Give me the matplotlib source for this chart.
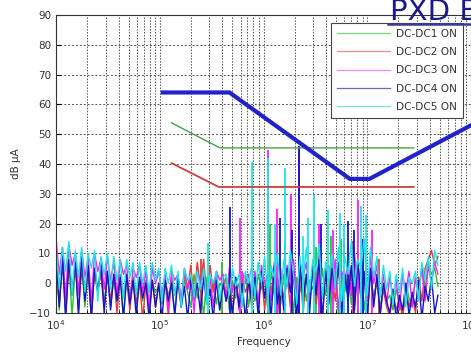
import numpy as np
import matplotlib
matplotlib.use("Agg")
from matplotlib import pyplot as plt

# measurement sweep: log-spaced scan from 10 kHz to ~48 MHz
freq_start, freq_stop = 1e4, 4.8e7

labels = ["DC-DC1 ON", "DC-DC2 ON", "DC-DC3 ON", "DC-DC4 ON", "DC-DC5 ON"]
colors = ["#2fbf2f", "#e03a3a", "#ff1cff", "#1414c8", "#19e6e6"]
legend_colors = ["#7fd67f", "#e08f8f", "#f08af0", "#6a6ab4", "#6fe6e6"]

# noise floor of each run, dBuA, one value per sweep point
dcdc1 = [9, -9, 8, -6, 7, -11, 6, -4, 5, -8, 4, -10, 3, -3, 4, -7, 3,
         -8, 2, -5, 3, -11, 1, -4, 2, -9, 0, -6, 1, -10, 0, -3, -1,
         -7, 1, -4, 0, -10, 2, -6, 1, -3, -8, 3, -5, 0, -11, 2, -4, 1, -7, 0, -2, 2, -9, 1, -5, 0, -3, 3, -8, 1,
         -6, 3, -2, 1, -9, 4, -4, 2, -7, 3, -1, 5, -10, 2, -3, 4, -6, 1, -2, 3, -8, 5, -4, 2, -6, 4, -11, 3,
         -3, 5, -7, 2, -1, 4, -9, 1,
         3, -5, 1, -8, -2, -6,
         -4, -9, -2, -7, -10, 0, -5, -8, 2, -4, 6, -2, 7, 3, 5, -1]
dcdc2 = [8, -7, 7, -11, 6, -3, 7, -9, 5, -5, 4, -12, 5, -2, 3, -8, 4,
         -6, 3, -10, 2, -4, 1, -9, 2, -7, 1, -12, 0, -3, 1, -8, 0,
         -5, 1, -11, 2, -4, 0, -8, 3, -2, 6, -6, 7, -1, 8, -5, 6, -3, 4, -9, 3, -4, 2, -10, 1, -6, 2, -3, 0, -8,
         1, -6, 3, -9, 2, -3, 4, -11, 1, -5, 3, -8, 2, -2, 5, -10, 3, -4, 4, -7, 2, -12, 5, -3, 3, -6, 6, -9,
         2, -2, 4, -8, 5, -5, 3, -11,
         4, -6, 1, -10, -2, -8,
         -11, -3, -9, -5, -12, -2, -8, -4, -10, 2, -6, 5, 8, 11, 6, 9]
dcdc3 = [15, 3, 12, -5, 13, 6, 10, -3, 11, 2, 9, -6, 10, 4, 8, -2, 9,
         1, 7, -4, 8, 3, 6, -7, 5, 2, 6, -3, 4, -8, 5, 0, 4,
         -4, 3, -9, 4, 1, 3, -6, 5, -2, 2, -10, 4, 0, 3, -5, 2, -8, 4, 1, 3, -6, 5, -3, 2, -9, 4, 0, 3, -5,
         4, -8, 6, 0, 3, -6, 7, -2, 5, -10, 6, 1, 8, -4, 4, 2, 7, -7, 5, -1, 9, -5, 3, 6, -3, 8, -9, 4,
         1, 7, -4, 10, -2, 6, 3, -6,
         9, 0, 6, -4, 3, -7,
         2, -5, 1, -9, 3, -3, 4, -8, 2, -2, 5, -6, 6, 0, 7, 3]
dcdc4 = [10, -8, 9, -12, 8, -4, 7, -11, 9, -6, 6, -12, 5, -3, 6, -10, 4,
         -9, 3, -6, 2, -12, 3, -7, 1, -11, 2, -5, 0, -12, 1, -8, 0,
         -12, 1, -6, 0, -11, 2, -8, -1, -12, 1, -5, 0, -10, 2, -7, -2, -12, 1, -9, 0, -6, -1, -11, 2, -8, 0, -12, 1, -6,
         2, -11, 4, -5, 3, -12, 6, -7, 2, -9, 5, -3, 4, -12, 7, -6, 3, -10, 6, -4, 8, -12, 4, -7, 5, -2, 7, -11,
         3, -6, 6, -9, 8, -5, 4, -12,
         5, -8, 3, -11, 0, -6,
         -10, -2, -12, -4, -9, 0, -11, -3, -8, 1, -12, -1, -6, 2, -10, -4]
dcdc5 = [13, -2, 12, 4, 14, -4, 11, 2, 12, -3, 10, 5, 11, -6, 9, 3, 10,
         -2, 9, 1, 8, -5, 8, 2, 7, -4, 7, 0, 6, -3, 7, 1, 5,
         -6, 5, 0, 6, -4, 4, -8, 5, 1, 3, -5, 4, -2, 5, -7, 3, 0, 4, -6, 2, 3, -4, 5, -1, 3, -8, 4, 0, 6,
         -5, 7, 0, 9, -6, 6, 2, 10, -4, 8, -1, 11, 3, -7, 9, 1, 12, -3, 8, 4, 13, -5, 7, 2, 10, -2, 12, -6,
         9, 3, 14, -1, 8, 5, 15, -4,
         12, 2, 9, -5, 6, -2,
         4, -7, 3, -3, 5, -8, 2, 0, 4, -6, 7, 1, 9, -2, 11, 6]

# narrow-band spikes (frequency Hz, peak dBuA)
spikes1 = [(4.0e5, 7), (1.15e6, 20), (3.2e6, 12), (4.5e6, 16), (5.6e6, 15)]
spikes2 = [(2.5e5, 8), (1.6e6, 14), (3.6e6, 10), (7.3e6, 14), (1.3e7, 8)]
spikes3 = [(5.9e5, 22), (1.1e6, 44.7), (1.35e6, 25), (1.85e6, 30), (2.2e6, 45),
           (3.4e6, 20), (4.7e6, 18), (6.0e6, 14), (8.1e6, 28), (1.1e7, 18)]
spikes4 = [(4.7e5, 25.6), (1.45e6, 22), (1.9e6, 18), (2.2e6, 46), (3.6e6, 20),
           (6.5e6, 21), (7.5e6, 18), (9.0e6, 15)]
spikes5 = [(2.9e5, 13.5), (7.8e5, 40.7), (1.1e6, 42), (1.3e6, 20), (1.6e6, 38.6),
           (2.4e6, 16), (2.7e6, 22), (3.1e6, 29.6), (4.2e6, 24.6), (5.4e6, 23.6),
           (6.0e6, 20), (8.7e6, 26), (9.8e6, 23)]

# limit lines
limit_f = [1.07e5, 4.7e5, 6.8e6, 1.05e7, 1.0e8]
limit_v = [64, 64, 35, 35, 53]
green_f = [1.3e5, 3.8e5, 2.8e7]
green_v = [53.8, 45.4, 45.4]
red_f = [1.3e5, 3.7e5, 2.8e7]
red_v = [40.3, 32.3, 32.3]

fig = plt.figure(figsize=(4.71, 3.53), dpi=100)
ax = fig.add_axes([0.119, 0.1133, 0.881, 0.8442])

floors = [dcdc1, dcdc2, dcdc3, dcdc4, dcdc5]
spikes = [spikes1, spikes2, spikes3, spikes4, spikes5]

for lvl, sp, c in zip(floors, spikes, colors):
    freq = np.logspace(np.log10(freq_start), np.log10(freq_stop), len(lvl))
    ax.plot(freq, lvl, color=c, lw=1.0)
    sf = [s[0] for s in sp]
    sv = [s[1] for s in sp]
    ax.vlines(sf, -10, sv, color=c, lw=1.3)

ax.plot(green_f, green_v, color="#4a9e4a", lw=1.0)
ax.plot(red_f, red_v, color="#c84040", lw=1.3)
ax.plot(limit_f, limit_v, color="#2222cc", lw=3.0, solid_joinstyle="miter")

# legend proxies
for lab, c in zip(labels, legend_colors):
    ax.plot([], [], color=c, lw=0.9, label=lab)
leg = ax.legend(loc="upper right", bbox_to_anchor=(0.981, 0.973), borderaxespad=0,
                fontsize=7.6, handlelength=5.0, labelspacing=0.78, borderpad=0.55,
                handletextpad=0.6, frameon=True, fancybox=False, framealpha=1)
leg.get_frame().set_edgecolor("#444444")
leg.get_frame().set_linewidth(0.8)
for t in leg.get_texts():
    t.set_color("#333333")

ax.set_xscale("log")
ax.set_xlim(1e4, 1e8)
ax.set_ylim(-10, 90)
ax.set_yticks(range(-10, 91, 10))
ax.grid(True, which="both", axis="x", ls=(0, (1.5, 1.5)), color="#555555", lw=0.7)
ax.grid(True, which="major", axis="y", ls=(0, (2, 2)), color="#555555", lw=0.7)
ax.tick_params(which="both", direction="in", labelsize=7.5, labelcolor="#333333")
ax.set_xlabel("Frequency", fontsize=7.5, color="#333333", labelpad=4)
ax.set_ylabel("dB μA", fontsize=7.5, color="#333333", labelpad=6)
for s in ax.spines.values():
    s.set_color("#333333")

# slide title (cut off on the right as in the slide)
fig.text(390 / 471, 1 + 2 / 353, "PXD B", fontsize=21, color="#1a1a8a",
         ha="left", va="top")
fig.add_artist(plt.Line2D([388 / 471, 1], [1 - 24 / 353] * 2, color="#3a3a9a", lw=1.8))

plt.savefig("out.png", dpi=100)
